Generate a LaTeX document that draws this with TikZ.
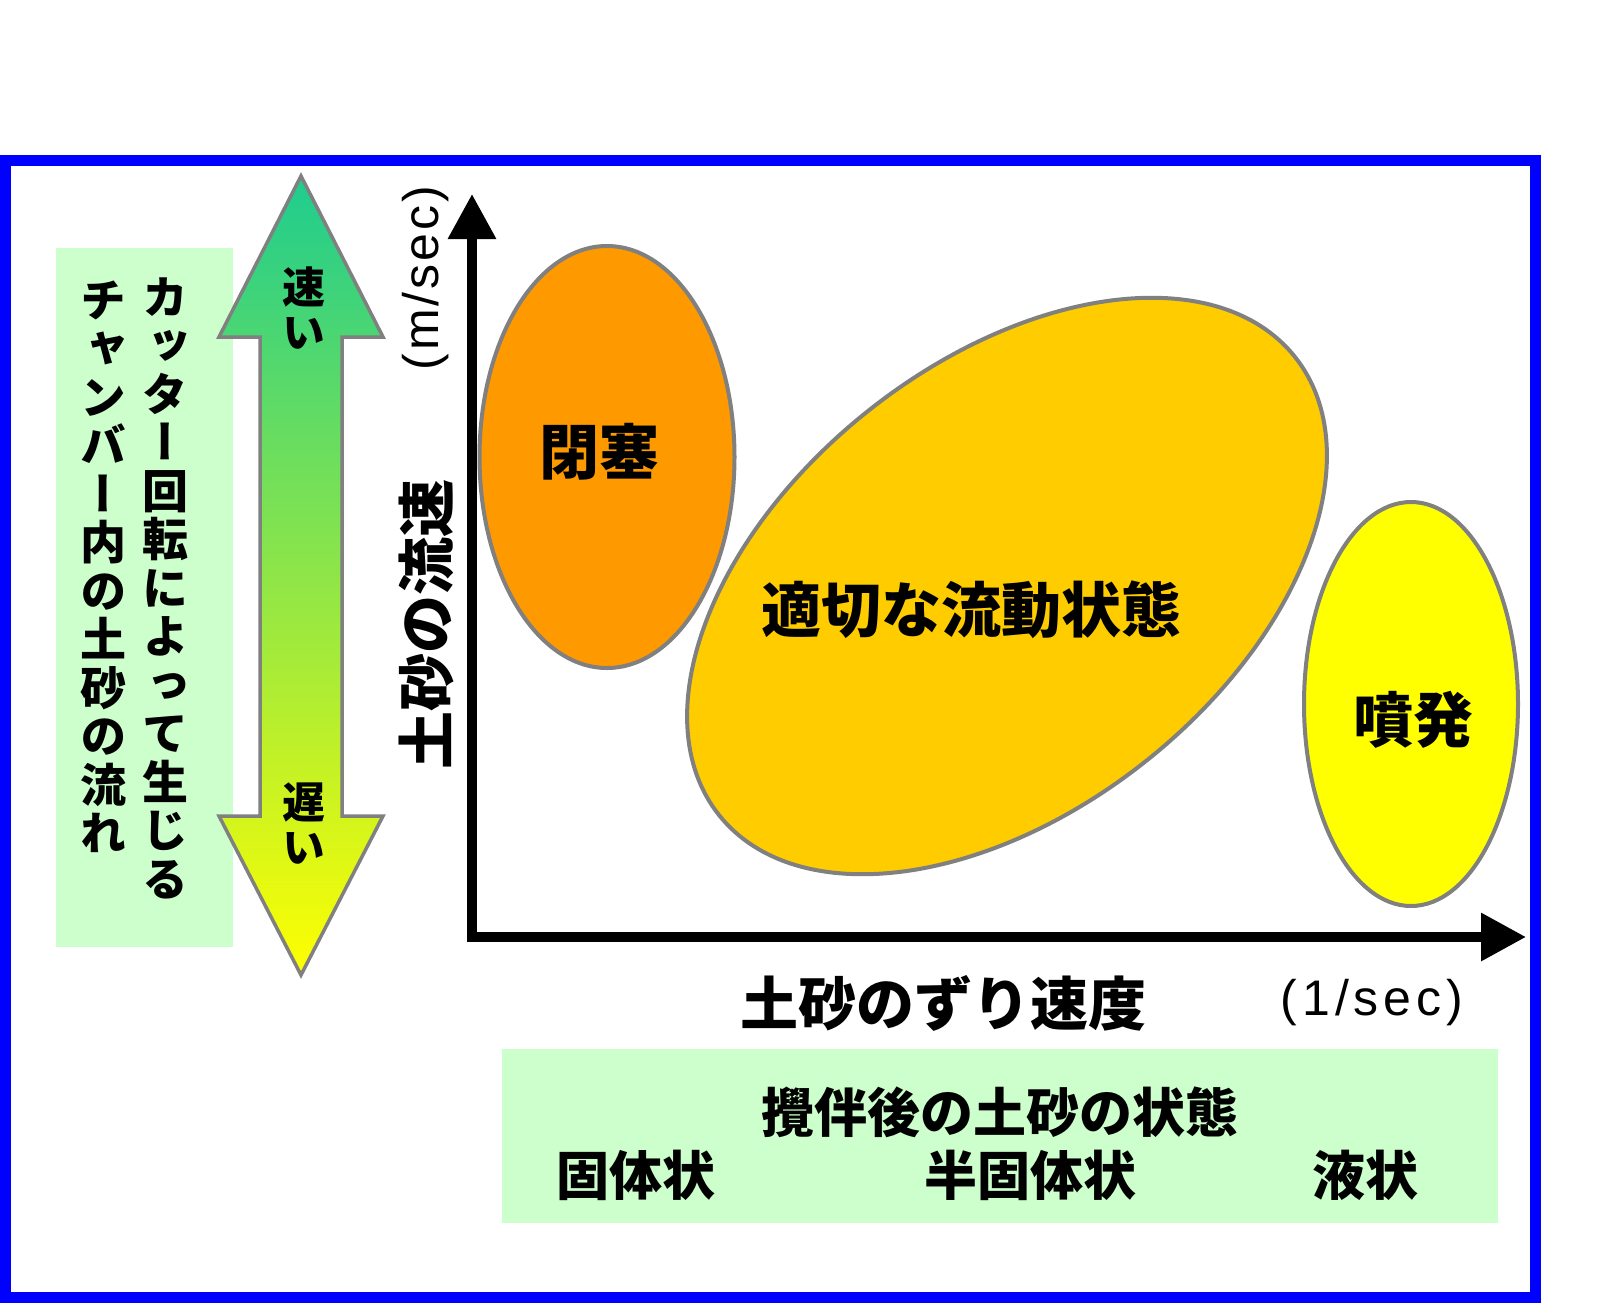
\documentclass[tikz,border=0pt]{standalone}
\usepackage{fontspec}
\usepackage{graphicx}
\usetikzlibrary{shapes.geometric,arrows.meta}
\newfontfamily\jp{Noto Sans CJK JP}
\newfontfamily\jpv{Noto Sans CJK JP}[RawFeature=+vert]
\newfontfamily\latin{Liberation Sans}
\definecolor{frameblue}{RGB}{0,0,255}
\definecolor{paleg}{RGB}{204,255,204}
\definecolor{outl}{RGB}{128,128,128}
\definecolor{orng}{RGB}{255,153,0}
\definecolor{gold}{RGB}{255,204,0}
\definecolor{yell}{RGB}{255,255,0}
\definecolor{teal1}{RGB}{30,204,143}
\definecolor{midg}{RGB}{160,220,110}
\tikzset{
  blob/.style={ellipse, draw=outl, line width=4pt, inner sep=0pt},
  lbl/.style={font=\jp\bfseries\fontsize{60pt}{64pt}\selectfont, inner sep=0pt},
  vtxt/.style={font=\jpv\bfseries\fontsize{46pt}{48.5pt}\selectfont, align=center, inner sep=0pt},
  arrtxt/.style={font=\jpv\bfseries\fontsize{43pt}{45pt}\selectfont, align=center, inner sep=0pt},
  axlbl/.style={font=\jp\bfseries\fontsize{58pt}{62pt}\selectfont, inner sep=0pt},
  unit/.style={font=\latin\fontsize{50pt}{54pt}\selectfont, inner sep=0pt},
  boxtxt/.style={font=\jp\bfseries\fontsize{53pt}{57pt}\selectfont, inner sep=0pt},
  axis/.style={line width=9.5pt, {Triangle[length=45pt,width=46pt]}-{Triangle[length=45pt,width=46pt]}}
}
\begin{document}
\begin{tikzpicture}[x=1pt,y=-1pt]
\useasboundingbox (0,0) rectangle (1600,1312);
\fill[white] (0,0) rectangle (1600,1312);
% frame
\draw[frameblue, line width=11pt] (5.5,160.5) rectangle (1535.5,1297.5);
% left green box
\node[fill=paleg, minimum width=177pt, minimum height=699pt, inner sep=0pt] (lbox) at (144.5,597.5) {};
\node[vtxt] (col1) at (165,588) {カ\\ッ\\タ\\ー\\回\\転\\に\\よ\\っ\\て\\生\\じ\\る};
\node[vtxt] (col2) at (103,567) {チ\\ャ\\ン\\バ\\ー\\内\\の\\土\\砂\\の\\流\\れ};
% double arrow
\path[draw=outl, line width=3.5pt, top color=teal1, middle color=midg, bottom color=yell]
  (301,176) -- (383,337) -- (342,337) -- (342,816) -- (383,816) -- (301,975)
  -- (219,816) -- (260,816) -- (260,337) -- (219,337) -- cycle;
\node[arrtxt] (fast) at (304,308) {速\\い};
\node[arrtxt] (slow) at (304,824) {遅\\い};
% axes
\coordinate (origin) at (472,937);
\coordinate (ytip) at (472,194);
\coordinate (xtip) at (1526,937);
\draw[axis] (ytip) -- (origin) -- (xtip);
\node[axlbl, rotate=90] (ylab) at (426,624) {土砂の流速};
\node[unit, rotate=90, font=\latin\fontsize{50pt}{54pt}\selectfont\addfontfeature{LetterSpace=6}] (yunit) at (426,278) {(m/sec)};
\node[axlbl] (xlab) at (943,1003) {土砂のずり速度};
\node[unit, font=\latin\fontsize{50pt}{54pt}\selectfont\addfontfeature{LetterSpace=10}] (xunit) at (1372,1003) {(1/sec)};
% ellipses
\node[blob, fill=orng, minimum width=255pt, minimum height=422pt] (closed) at (607,457) {};
\node[blob, fill=gold, minimum width=736pt, minimum height=447pt, rotate=38.5] (proper) at (1007,586) {};
\node[blob, fill=yell, minimum width=214pt, minimum height=404pt] (burst) at (1411,704) {};
\node[lbl] (tclosed) at (599,452) {閉塞};
\node[lbl] (tproper) at (971,610) {適切な流動状態};
\node[lbl] (tburst) at (1413,720) {噴発};
% bottom box
\node[fill=paleg, minimum width=996pt, minimum height=174pt, inner sep=0pt] (bbox) at (1000,1135.5) {};
\node[boxtxt] (btitle) at (1000,1112) {攪伴後の土砂の状態};
\node[boxtxt] (solid) at (636,1175) {固体状};
\node[boxtxt] (semi) at (1030,1175) {半固体状};
\node[boxtxt] (liquid) at (1365,1175) {液状};
\end{tikzpicture}
\end{document}
